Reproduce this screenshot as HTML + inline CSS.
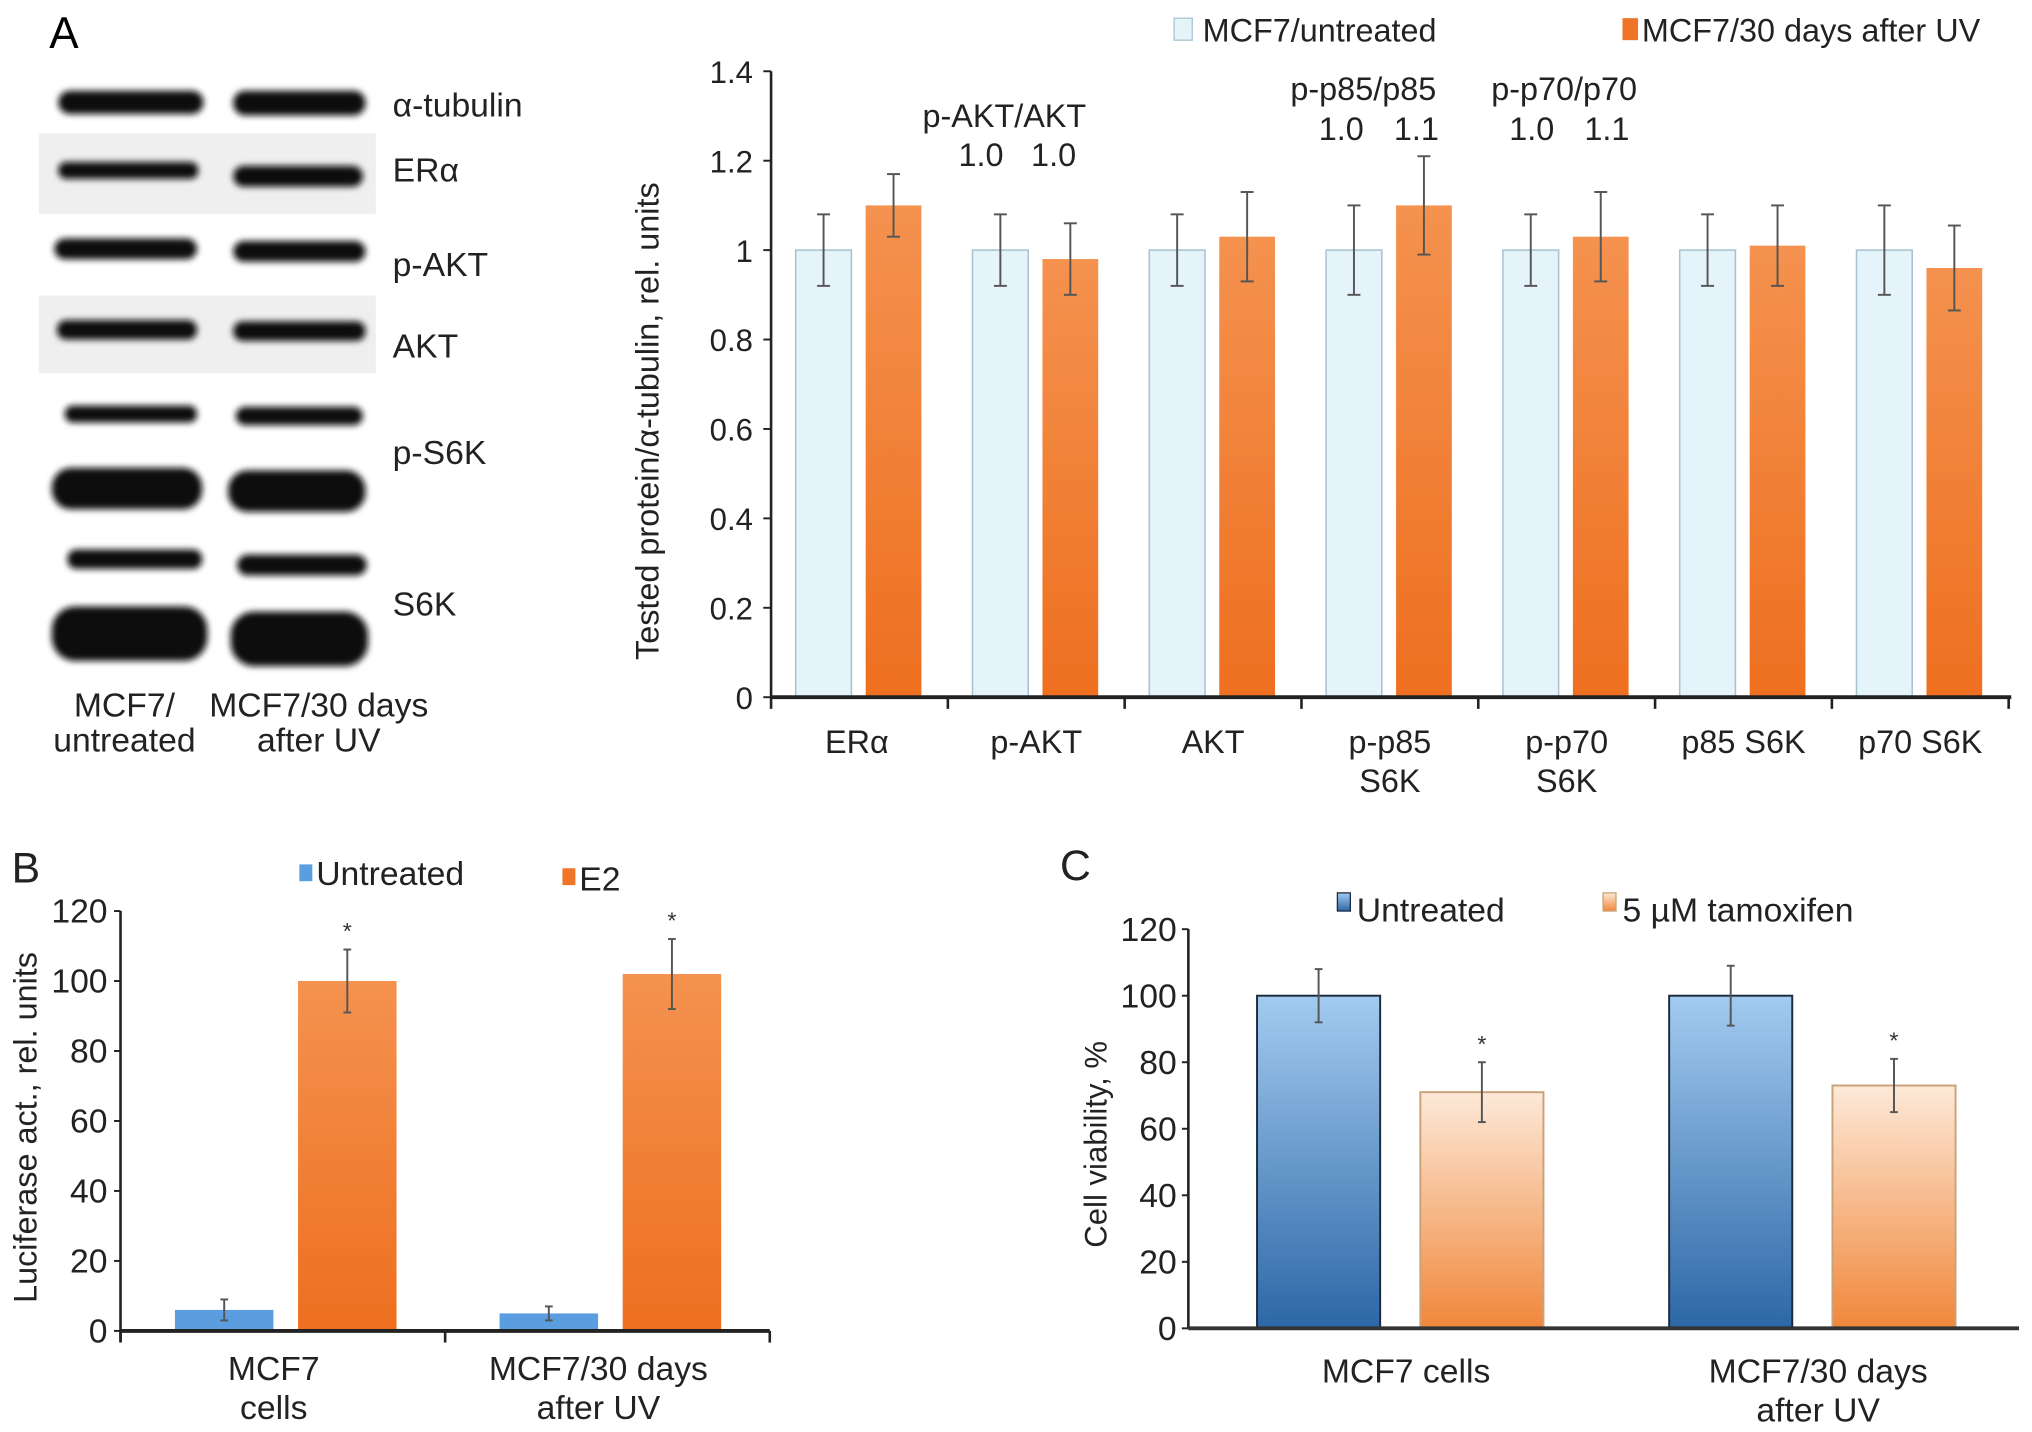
<!DOCTYPE html>
<html><head><meta charset="utf-8">
<style>
html,body{margin:0;padding:0;background:#fff;}
svg{display:block;font-family:"Liberation Sans",Arial,sans-serif;}
</style></head>
<body>
<svg id="fig" width="2032" height="1432" viewBox="0 0 1568 1105" xmlns="http://www.w3.org/2000/svg">
<defs>
<linearGradient id="gOrA" x1="0" y1="0" x2="0" y2="1"><stop offset="0" stop-color="#f4924f"/><stop offset="1" stop-color="#ee6f1f"/></linearGradient>
<linearGradient id="gBlue" x1="0" y1="0" x2="0" y2="1"><stop offset="0" stop-color="#a3cbf0"/><stop offset="1" stop-color="#2c67a6"/></linearGradient>
<linearGradient id="gTam" x1="0" y1="0" x2="0" y2="1"><stop offset="0" stop-color="#fde9d8"/><stop offset="1" stop-color="#f0873a"/></linearGradient>
<filter id="blur" x="-10%" y="-50%" width="120%" height="200%"><feGaussianBlur stdDeviation="2.5"/></filter>
</defs>
<g>
<text x="38" y="37" font-size="34">A</text>
<rect x="30" y="103" width="260" height="62" fill="#efefef"/>
<rect x="30" y="228" width="260" height="60" fill="#efefef"/>
<g filter="url(#blur)" fill="#111">
<rect x="45" y="70" width="112" height="18" rx="9"/>
<rect x="180" y="70" width="102" height="19" rx="9"/>
<rect x="45" y="125" width="108" height="13" rx="6"/>
<rect x="180" y="128" width="100" height="16" rx="8"/>
<rect x="42" y="184" width="110" height="16" rx="8"/>
<rect x="180" y="186" width="102" height="16" rx="8"/>
<rect x="44" y="247" width="108" height="15" rx="7"/>
<rect x="180" y="248" width="102" height="15" rx="7"/>
<rect x="50" y="313" width="102" height="13" rx="6"/>
<rect x="182" y="314" width="98" height="14" rx="7"/>
<rect x="40" y="361" width="116" height="32" rx="15"/>
<rect x="176" y="363" width="106" height="32" rx="15"/>
<rect x="52" y="424" width="104" height="15" rx="7"/>
<rect x="183" y="428" width="100" height="16" rx="8"/>
<rect x="40" y="468" width="120" height="42" rx="18"/>
<rect x="178" y="472" width="106" height="42" rx="18"/>
</g>
<g font-size="26" fill="#222">
<text x="303" y="90">α-tubulin</text>
<text x="303" y="140">ERα</text>
<text x="303" y="213">p-AKT</text>
<text x="303" y="276">AKT</text>
<text x="303" y="358">p-S6K</text>
<text x="303" y="475">S6K</text>
</g>
<g font-size="26" fill="#222" text-anchor="middle">
<text x="96" y="553">MCF7/</text>
<text x="96" y="580">untreated</text>
<text x="246" y="553">MCF7/30 days</text>
<text x="246" y="580">after UV</text>
</g>
</g>
<g id="chartA"></g>
<g id="chartB"></g>
<g id="chartC"></g>
</svg>
<script>
// ---- Chart A data ----
var catsA = ["ERα","p-AKT","AKT","p-p85|S6K","p-p70|S6K","p85 S6K","p70 S6K"];
var untrA = [1.0,1.0,1.0,1.0,1.0,1.0,1.0];
var untrErrA = [0.08,0.08,0.08,0.10,0.08,0.08,0.10];
var uvA = [1.10,0.98,1.03,1.10,1.03,1.01,0.96];
var uvErrA = [0.07,0.08,0.10,0.11,0.10,0.09,0.095];
var ticksA = [0,0.2,0.4,0.6,0.8,1,1.2,1.4];
var tickLabelsA = ["0","0.2","0.4","0.6","0.8","1","1.2","1.4"];
// ---- Chart B data ----
var catsB = ["MCF7|cells","MCF7/30 days|after UV"];
var untrB = [6,5];
var untrErrB = [3,2];
var e2B = [100,102];
var e2ErrB = [9,10];
var ticksB = [0,20,40,60,80,100,120];
// ---- Chart C data ----
var catsC = ["MCF7 cells","MCF7/30 days|after UV"];
var untrC = [100,100];
var untrErrC = [8,9];
var tamC = [71,73];
var tamErrC = [9,8];
var ticksC = [0,20,40,60,80,100,120];

var NS = "http://www.w3.org/2000/svg";
function mk(parent, tag, attrs, txt){
  var e = document.createElementNS(NS, tag);
  for (var k in attrs) e.setAttribute(k, attrs[k]);
  if (txt !== undefined) e.textContent = txt;
  parent.appendChild(e);
  return e;
}
function multiText(parent, x, y, s, lh, size, name){
  var parts = s.split("|");
  for (var i=0;i<parts.length;i++){
    var t = mk(parent,"text",{x:x,y:y+i*lh,"font-size":size,"text-anchor":"middle",fill:"#222"},parts[i]);
    
    
  }
}
function errBar(parent, x, y1, y2, cap, name){
  var g = mk(parent,"g",{stroke:"#555","stroke-width":1.5});
  
  
  mk(g,"line",{x1:x,x2:x,y1:y1,y2:y2});
  mk(g,"line",{x1:x-cap,x2:x+cap,y1:y1,y2:y1});
  mk(g,"line",{x1:x-cap,x2:x+cap,y1:y2,y2:y2});
}

// ---------- Chart A ----------
(function(){
  var g = document.getElementById("chartA");
  var x0=595, x1=1550, y0=538, yTop=55, vmax=1.4;
  function Y(v){ return y0 - v/vmax*(y0-yTop); }
  var gw = (x1-x0)/catsA.length;
  var ax = mk(g,"line",{x1:x0,x2:x0,y1:yTop,y2:y0,stroke:"#222","stroke-width":2});
  
  
  for (var i=0;i<ticksA.length;i++){
    var ty = Y(ticksA[i]);
    mk(g,"line",{x1:x0-6,x2:x0,y1:ty,y2:ty,stroke:"#222","stroke-width":1.5});
    var t = mk(g,"text",{x:x0-14,y:ty+9,"font-size":24,"text-anchor":"end",fill:"#222"},tickLabelsA[i]);
    
    
  }
  for (var i=0;i<catsA.length;i++){
    var gx = x0 + i*gw;
    var b1 = mk(g,"rect",{x:gx+19,y:Y(untrA[i]),width:43,height:y0-Y(untrA[i]),fill:"#e5f4fb",stroke:"#a8c3cf","stroke-width":1.2});
    
    
    var b2 = mk(g,"rect",{x:gx+73,y:Y(uvA[i]),width:43,height:y0-Y(uvA[i]),fill:"url(#gOrA)"});
    
    
    errBar(g, gx+40.5, Y(untrA[i]+untrErrA[i]), Y(untrA[i]-untrErrA[i]), 5, 'error-bar-untreated-a');
    errBar(g, gx+94.5, Y(uvA[i]+uvErrA[i]), Y(uvA[i]-uvErrA[i]), 5, 'error-bar-uv-a');
    multiText(g, gx+gw/2+ (i==0?-2:0), 581, catsA[i], 30, 25, 'x-tick-label-a');
  }
  var xa = mk(g,"line",{x1:x0,x2:x1+2,y1:y0,y2:y0,stroke:"#222","stroke-width":3});
  
  
  for (var i=0;i<=catsA.length;i++){
    mk(g,"line",{x1:x0+i*gw,x2:x0+i*gw,y1:y0,y2:y0+9,stroke:"#222","stroke-width":2});
  }
  var yt = mk(g,"text",{x:0,y:0,"font-size":25,"text-anchor":"middle",fill:"#222",transform:"translate(508,325) rotate(-90)"},"Tested protein/α-tubulin, rel. units");
  
  
  var ann = [["p-AKT/AKT",775,98],["1.0",757,128],["1.0",813,128],["p-p85/p85",1052,77],["1.0",1035,108],["1.1",1093,108],["p-p70/p70",1207,77],["1.0",1182,108],["1.1",1240,108]];
  for (var i=0;i<ann.length;i++){
    var a = mk(g,"text",{x:ann[i][1],y:ann[i][2],"font-size":25,"text-anchor":"middle",fill:"#222"},ann[i][0]);
    
    
  }
  var l1 = mk(g,"rect",{x:906,y:14,width:14,height:17,fill:"#e5f4fb",stroke:"#a8c3cf"});
  
  
  var lt1 = mk(g,"text",{x:928,y:32,"font-size":25,fill:"#222"},"MCF7/untreated");
  
  
  var l2 = mk(g,"rect",{x:1252,y:14,width:12,height:17,fill:"#ef7428"});
  
  
  var lt2 = mk(g,"text",{x:1267,y:32,"font-size":25,fill:"#222"},"MCF7/30 days after UV");
  
  
})();

// ---------- Chart B ----------
(function(){
  var g = document.getElementById("chartB");
  var x0=93, x1=594, y0=1027, yTop=703, vmax=120;
  function Y(v){ return y0 - v/vmax*(y0-yTop); }
  var gw = (x1-x0)/catsB.length;
  var pl = mk(g,"text",{x:9,y:681,"font-size":33,fill:"#222"},"B");
  
  
  var ax = mk(g,"line",{x1:x0,x2:x0,y1:yTop,y2:y0+8,stroke:"#222","stroke-width":2});
  
  
  for (var i=0;i<ticksB.length;i++){
    var ty = Y(ticksB[i]);
    mk(g,"line",{x1:x0-5,x2:x0,y1:ty,y2:ty,stroke:"#222","stroke-width":1.5});
    var t = mk(g,"text",{x:x0-10,y:ty+9,"font-size":26,"text-anchor":"end",fill:"#222"},String(ticksB[i]));
    
    
  }
  for (var i=0;i<catsB.length;i++){
    var gx = x0 + i*gw;
    var b1 = mk(g,"rect",{x:gx+42,y:Y(untrB[i]),width:76,height:y0-Y(untrB[i]),fill:"#5b9ee0"});
    
    
    var b2 = mk(g,"rect",{x:gx+137,y:Y(e2B[i]),width:76,height:y0-Y(e2B[i]),fill:"url(#gOrA)"});
    
    
    errBar(g, gx+80, Y(untrB[i]+untrErrB[i]), Y(untrB[i]-untrErrB[i]), 3, 'error-bar-untreated-b');
    errBar(g, gx+175, Y(e2B[i]+e2ErrB[i]), Y(e2B[i]-e2ErrB[i]), 3, 'error-bar-e2-b');
    var s = mk(g,"text",{x:gx+175,y:Y(e2B[i]+e2ErrB[i])-8,"font-size":18,"text-anchor":"middle",fill:"#333"},"*");
    
    
    multiText(g, gx+gw/2-7, 1065, catsB[i], 30, 26, 'x-tick-label-b');
  }
  var xa = mk(g,"line",{x1:x0,x2:x1,y1:y0,y2:y0,stroke:"#222","stroke-width":3});
  
  
  for (var i=0;i<=catsB.length;i++) mk(g,"line",{x1:x0+i*gw,x2:x0+i*gw,y1:y0,y2:y0+9,stroke:"#222","stroke-width":2});
  var yt = mk(g,"text",{x:0,y:0,"font-size":25,"text-anchor":"middle",fill:"#222",transform:"translate(28,870) rotate(-90)"},"Luciferase act., rel. units");
  
  
  var l1 = mk(g,"rect",{x:231,y:667,width:10,height:13,fill:"#5b9ee0"});
  
  
  var lt1 = mk(g,"text",{x:244,y:683,"font-size":26,fill:"#222"},"Untreated");
  
  
  var l2 = mk(g,"rect",{x:434,y:670,width:10,height:13,fill:"#ef7428"});
  
  
  var lt2 = mk(g,"text",{x:447,y:687,"font-size":26,fill:"#222"},"E2");
  
  
})();

// ---------- Chart C ----------
(function(){
  var g = document.getElementById("chartC");
  var x0=917, x1=1558, y0=1025, yTop=717, vmax=120;
  function Y(v){ return y0 - v/vmax*(y0-yTop); }
  var gw = (x1-x0)/catsC.length;
  var pl = mk(g,"text",{x:818,y:679,"font-size":33,fill:"#222"},"C");
  
  
  var ax = mk(g,"line",{x1:x0,x2:x0,y1:yTop,y2:y0,stroke:"#222","stroke-width":2});
  
  
  for (var i=0;i<ticksC.length;i++){
    var ty = Y(ticksC[i]);
    mk(g,"line",{x1:x0-5,x2:x0,y1:ty,y2:ty,stroke:"#222","stroke-width":1.5});
    var t = mk(g,"text",{x:x0-9,y:ty+9,"font-size":26,"text-anchor":"end",fill:"#222"},String(ticksC[i]));
    
    
  }
  for (var i=0;i<catsC.length;i++){
    var gx = x0 + i*(1288-970);
    var b1 = mk(g,"rect",{x:gx+53,y:Y(untrC[i]),width:95,height:y0-Y(untrC[i]),fill:"url(#gBlue)",stroke:"#1c2a3c","stroke-width":1.5});
    
    
    var b2 = mk(g,"rect",{x:gx+179,y:Y(tamC[i]),width:95,height:y0-Y(tamC[i]),fill:"url(#gTam)",stroke:"#c9a27a","stroke-width":1.5});
    
    
    errBar(g, gx+100.5, Y(untrC[i]+untrErrC[i]), Y(untrC[i]-untrErrC[i]), 3, 'error-bar-untreated-c');
    errBar(g, gx+226.5, Y(tamC[i]+tamErrC[i]), Y(tamC[i]-tamErrC[i]), 3, 'error-bar-tamoxifen-c');
    var s = mk(g,"text",{x:gx+226.5,y:Y(tamC[i]+tamErrC[i])-8,"font-size":18,"text-anchor":"middle",fill:"#333"},"*");
    
    
    multiText(g, gx+168, 1067, catsC[i], 30, 26, 'x-tick-label-c');
  }
  var xa = mk(g,"line",{x1:x0,x2:x1,y1:y0,y2:y0,stroke:"#333","stroke-width":3});
  
  
  var yt = mk(g,"text",{x:0,y:0,"font-size":24,"text-anchor":"middle",fill:"#222",transform:"translate(854,883) rotate(-90)"},"Cell viability, %");
  
  
  var l1 = mk(g,"rect",{x:1032,y:689,width:10,height:14,fill:"url(#gBlue)",stroke:"#1c2a3c"});
  
  
  var lt1 = mk(g,"text",{x:1047,y:711,"font-size":26,fill:"#222"},"Untreated");
  
  
  var l2 = mk(g,"rect",{x:1237,y:689,width:10,height:14,fill:"url(#gTam)",stroke:"#c9a27a"});
  
  
  var lt2 = mk(g,"text",{x:1252,y:711,"font-size":26,fill:"#222"},"5 µM tamoxifen");
  
  
})();
</script>
</body></html>
